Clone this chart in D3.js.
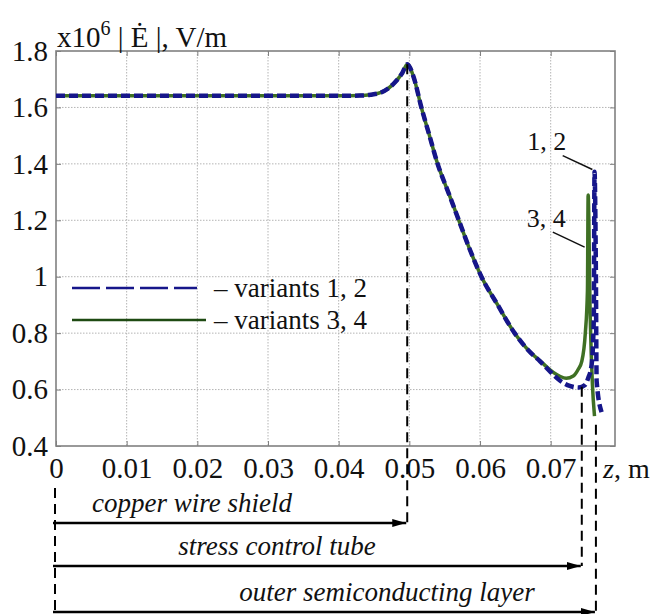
<!DOCTYPE html>
<html>
<head>
<meta charset="utf-8">
<style>
  body { margin: 0; background: #fff; }
  svg { display: block; font-family: "Liberation Serif", "Times New Roman", serif; }
</style>
</head>
<body>
<script src="https://cdnjs.cloudflare.com/ajax/libs/d3/7.8.5/d3.min.js"></script>
<script>
  // ticks
  const xTicks = [0, 0.01, 0.02, 0.03, 0.04, 0.05, 0.06, 0.07]
  const xTickLabels = ['0', '0.01', '0.02', '0.03', '0.04', '0.05', '0.06', '0.07']
  const yTicks = [0.4, 0.6, 0.8, 1.0, 1.2, 1.4, 1.6, 1.8]
  const yTickLabels = ['0.4', '0.6', '0.8', '1', '1.2', '1.4', '1.6', '1.8']

  // common part of all variants (z in m, |E| in 1e6 V/m)
  const zMain = [0, 0.01, 0.02, 0.03, 0.04, 0.043, 0.0445, 0.046, 0.047, 0.048, 0.049, 0.0497,
    0.0506, 0.0517, 0.0528, 0.054, 0.0555, 0.057, 0.0585, 0.0602, 0.0625, 0.0649, 0.067]
  const eMain = [1.641, 1.641, 1.641, 1.641, 1.641, 1.642, 1.645, 1.653, 1.667, 1.69, 1.722, 1.753,
    1.708, 1.6, 1.504, 1.4, 1.3, 1.2, 1.1, 1.0, 0.9, 0.8, 0.735]

  // variants 1, 2 tail
  const zTail12 = [0.0685, 0.07, 0.0713, 0.0727, 0.074, 0.0748, 0.0753, 0.0758, 0.0761, 0.0762, 0.0764, 0.0765, 0.0772]
  const eTail12 = [0.70, 0.662, 0.632, 0.613, 0.607, 0.615, 0.64, 0.69, 0.85, 1.372, 1.0, 0.63, 0.52]

  // variants 3, 4 tail
  const zTail34 = [0.0685, 0.07, 0.0713, 0.0722, 0.0732, 0.0739, 0.0744, 0.0749, 0.0752, 0.0753, 0.0756, 0.0759, 0.0762]
  const eTail34 = [0.702, 0.668, 0.647, 0.64, 0.648, 0.672, 0.70, 0.80, 0.95, 1.29, 0.85, 0.62, 0.506]

  const legendLabels = ['\u2013 variants 1, 2', '\u2013 variants 3, 4']

  // boundaries of the cable accessory parts
  const partNames = ['copper wire shield', 'stress control tube', 'outer semiconducting layer']
  const partEndZ = [0.0497, 0.0744, 0.0764]
  const partTopE = [1.753, 0.61, 0.475]

  // curve labels "1, 2" and "3, 4" with leader lines
  const curveLabels = ['1, 2', '3, 4']
  const labelZ = [0.0667, 0.0666]
  const labelE = [1.45, 1.176]
  const leaderZ0 = [0.0717, 0.0703]
  const leaderE0 = [1.429, 1.158]
  const leaderZ1 = [0.0759, 0.0748]
  const leaderE1 = [1.38, 1.105]

  const W = 653, H = 614
  const margins = { top: 51, right: 38, bottom: 168, left: 56 }
  const width = W - margins.left - margins.right
  const height = H - margins.top - margins.bottom

  const blue = '#16168a'
  const green = '#3f7024'
  const fs = 29

  const svg = d3.select('body').append('svg')
    .attr('width', W).attr('height', H)

  const g = svg.append('g')
    .attr('transform', `translate(${margins.left}, ${margins.top})`)

  const x = d3.scaleLinear().domain([0, 0.0791]).range([0, width])
  const y = d3.scaleLinear().domain([0.4, 1.8]).range([height, 0])

  // grid
  g.append('g').selectAll('line')
    .data(xTicks.slice(1))
    .enter().append('line')
    .attr('x1', d => x(d)).attr('x2', d => x(d))
    .attr('y1', 0).attr('y2', height)
    .attr('stroke', '#b4b4b4').attr('stroke-width', 1).attr('stroke-dasharray', '1.5,1.5')
  g.append('g').selectAll('line')
    .data(yTicks.slice(1, -1))
    .enter().append('line')
    .attr('y1', d => y(d)).attr('y2', d => y(d))
    .attr('x1', 0).attr('x2', width)
    .attr('stroke', '#b4b4b4').attr('stroke-width', 1).attr('stroke-dasharray', '1.5,1.5')

  // axes, ticks pointing inside
  const xAxis = d3.axisBottom(x).tickValues(xTicks).tickSize(-5).tickPadding(11)
    .tickFormat((d, i) => xTickLabels[i])
  const yAxis = d3.axisLeft(y).tickValues(yTicks).tickSize(-5).tickPadding(8)
    .tickFormat((d, i) => yTickLabels[i])

  const gx = g.append('g').attr('transform', `translate(0, ${height})`).call(xAxis)
  const gy = g.append('g').call(yAxis)
  const gt = g.append('g').call(d3.axisTop(x).tickValues(xTicks).tickSize(-5).tickFormat(''))
  const gr = g.append('g').attr('transform', `translate(${width}, 0)`)
    .call(d3.axisRight(y).tickValues(yTicks).tickSize(-5).tickFormat(''))

  for (const a of [gx, gy, gt, gr]) {
    a.select('.domain').remove()
    a.selectAll('line').attr('stroke', '#808080')
    a.selectAll('text').attr('font-size', fs).attr('font-family', '"Liberation Serif", serif').attr('fill', '#111')
  }

  g.append('rect')
    .attr('width', width).attr('height', height)
    .attr('fill', 'none').attr('stroke', '#808080').attr('stroke-width', 1.6)

  // curves
  const line = d3.line()
    .x(d => x(d[0])).y(d => y(d[1]))
    .curve(d3.curveMonotoneX)

  const main = zMain.map((z, i) => [z, eMain[i]])
  const v12 = main.concat(zTail12.map((z, i) => [z, eTail12[i]]))
  const v34 = main.concat(zTail34.map((z, i) => [z, eTail34[i]]))

  g.append('path').datum(v34)
    .attr('d', line).attr('fill', 'none')
    .attr('stroke', green).attr('stroke-width', 3.5)
  g.append('path').datum(v12)
    .attr('d', line).attr('fill', 'none')
    .attr('stroke', blue).attr('stroke-width', 4.5).attr('stroke-dasharray', '9,4')

  // legend
  const legend = g.append('g')
  legend.append('line')
    .attr('x1', 16).attr('x2', 141).attr('y1', 237).attr('y2', 237)
    .attr('stroke', blue).attr('stroke-width', 2.5).attr('stroke-dasharray', '28,6')
  legend.append('line')
    .attr('x1', 16).attr('x2', 150).attr('y1', 269).attr('y2', 269)
    .attr('stroke', '#1e4a12').attr('stroke-width', 2.5)
  legend.selectAll('text')
    .data(legendLabels)
    .enter().append('text')
    .attr('x', 158).attr('y', (d, i) => 246 + i * 32)
    .attr('font-size', 27).attr('fill', '#111')
    .text(d => d)

  // curve labels
  g.selectAll('.clabel')
    .data(curveLabels)
    .enter().append('text').attr('class', 'clabel')
    .attr('x', (d, i) => x(labelZ[i])).attr('y', (d, i) => y(labelE[i]))
    .attr('font-size', 26).attr('fill', '#111')
    .text(d => d)
  g.selectAll('.leader')
    .data(curveLabels)
    .enter().append('line').attr('class', 'leader')
    .attr('x1', (d, i) => x(leaderZ0[i])).attr('y1', (d, i) => y(leaderE0[i]))
    .attr('x2', (d, i) => x(leaderZ1[i])).attr('y2', (d, i) => y(leaderE1[i]))
    .attr('stroke', '#111').attr('stroke-width', 1.5)

  // y title
  const title = svg.append('text')
    .attr('x', 57).attr('y', 47)
    .attr('font-size', fs).attr('fill', '#111')
  title.append('tspan').text('x10')
  title.append('tspan').attr('font-size', 20).attr('dy', -12).text('6')
  title.append('tspan').attr('dy', 12).text(' | \u0116 |, V/m')

  // z axis name
  const zName = svg.append('text')
    .attr('x', 603).attr('y', 478)
    .attr('font-size', 28).attr('fill', '#111')
  zName.append('tspan').attr('font-style', 'italic').text('z')
  zName.append('tspan').text(', m')

  // part arrows below the chart
  svg.append('defs').append('marker')
    .attr('id', 'head').attr('viewBox', '0 0 14 8')
    .attr('refX', 14).attr('refY', 4)
    .attr('markerWidth', 14).attr('markerHeight', 8)
    .attr('markerUnits', 'userSpaceOnUse').attr('orient', 'auto')
    .append('path').attr('d', 'M0,0L14,4L0,8Z').attr('fill', '#000')

  const arrowY = [523, 566, 612]
  const x0 = margins.left

  svg.append('line')
    .attr('x1', x0 - 1).attr('x2', x0 - 1).attr('y1', 488).attr('y2', 612)
    .attr('stroke', '#000').attr('stroke-width', 2).attr('stroke-dasharray', '10,6')

  svg.selectAll('.bound')
    .data(partEndZ)
    .enter().append('line').attr('class', 'bound')
    .attr('x1', d => margins.left + x(d)).attr('x2', d => margins.left + x(d))
    .attr('y1', (d, i) => margins.top + y(partTopE[i]))
    .attr('y2', (d, i) => arrowY[i])
    .attr('stroke', '#000').attr('stroke-width', 2).attr('stroke-dasharray', '10,6')

  svg.selectAll('.arrow')
    .data(partEndZ)
    .enter().append('line').attr('class', 'arrow')
    .attr('x1', x0 - 3).attr('x2', d => margins.left + x(d) - 1)
    .attr('y1', (d, i) => arrowY[i]).attr('y2', (d, i) => arrowY[i])
    .attr('stroke', '#000').attr('stroke-width', 2.5)
    .attr('marker-end', 'url(#head)')

  const labelCx = [192, 277, 387]
  svg.selectAll('.part')
    .data(partNames)
    .enter().append('text').attr('class', 'part')
    .attr('x', (d, i) => labelCx[i]).attr('y', (d, i) => arrowY[i] - 11)
    .attr('text-anchor', 'middle')
    .attr('font-size', 27).attr('font-style', 'italic').attr('fill', '#111')
    .text(d => d)
</script>
</body>
</html>
